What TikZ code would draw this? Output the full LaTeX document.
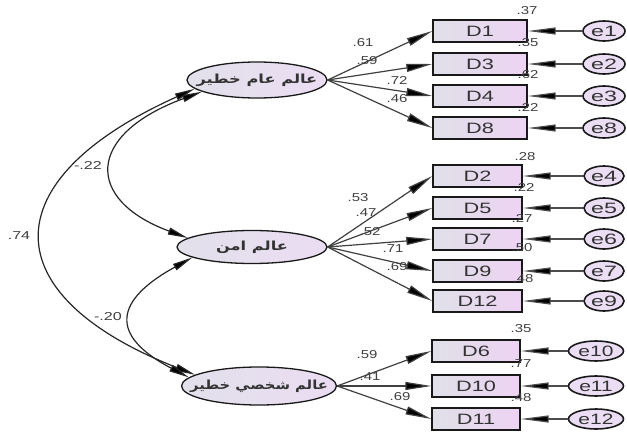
\documentclass[tikz,border=0pt]{standalone}
\usepackage{fontspec}
\usepackage{graphicx}
\setmainfont{Liberation Sans}
\newfontfamily\arabicfont[Script=Arabic]{DejaVu Sans}
\TeXXeTstate=1
\usetikzlibrary{arrows.meta,shapes.geometric}
\definecolor{boxl}{HTML}{E0E0E8}
\definecolor{boxr}{HTML}{EDD3F3}
\definecolor{ellf}{HTML}{EBDDF3}
\definecolor{elll}{HTML}{E2E0EA}
\definecolor{ink}{HTML}{333333}
\newcommand{\wtext}[2][1.45]{\scalebox{#1}[1]{#2}}
\newcommand{\artext}[2][1.3]{\makebox[0pt]{\scalebox{#1}[1]{\beginR #2\endR}}}
\begin{document}
\begin{tikzpicture}[x=1pt,y=-1pt,
 obs/.style={draw=black!90, line width=1.4pt, rectangle, minimum height=22pt, left color=boxl, right color=boxr, text=ink, font=\fontsize{15}{15}\selectfont, inner sep=0pt},
 lat/.style={draw=black!90, line width=1.3pt, ellipse, inner sep=0pt, left color=elll, right color=ellf, text=ink, font=\arabicfont\bfseries\fontsize{12.5}{12.5}\selectfont},
 err/.style={draw=black!90, line width=1.6pt, ellipse, minimum height=20pt, inner sep=0pt, fill=ellf, text=ink, font=\fontsize{15}{15}\selectfont},
 load/.style={draw=black!75, line width=1.2pt, -{Triangle[length=26pt,width=8pt,fill=black]}},
 resid/.style={draw=black!70, line width=1.2pt, -{Triangle[length=28pt,width=7pt,fill=black]}},
 cov/.style={draw=black!85, line width=1.2pt, {Triangle[length=20pt,width=7pt,fill=black]}-{Triangle[length=20pt,width=7pt,fill=black]}},
 num/.style={font=\fontsize{11.5}{11.5}\selectfont, inner sep=0pt, text=black!75}]
\useasboundingbox[fill=white] (0,0) rectangle (627,434);

% latent variables
\node[lat, minimum width=140pt, minimum height=36pt] (L1) at (257,80) {\artext{عالم عام خطير}};
\node[lat, minimum width=150pt, minimum height=33pt] (L2) at (252,247) {\artext{عالم امن}};
\node[lat, minimum width=155pt, minimum height=38pt] (L3) at (259,386) {\artext[1.18]{عالم شخصي خطير}};

% observed variables
\node[obs, minimum width=94pt] (D1) at (480,31) {\wtext{D1}};
\node[obs, minimum width=94pt] (D3) at (480,64) {\wtext{D3}};
\node[obs, minimum width=94pt] (D4) at (480,96) {\wtext{D4}};
\node[obs, minimum width=94pt] (D8) at (480,128) {\wtext{D8}};
\node[obs, minimum width=89pt] (D2) at (477.5,176) {\wtext{D2}};
\node[obs, minimum width=89pt] (D5) at (477.5,208) {\wtext{D5}};
\node[obs, minimum width=89pt] (D7) at (477.5,239) {\wtext{D7}};
\node[obs, minimum width=89pt] (D9) at (477.5,271) {\wtext{D9}};
\node[obs, minimum width=89pt] (D12) at (477.5,301) {\wtext{D12}};
\node[obs, minimum width=88pt] (D6) at (476,351) {\wtext{D6}};
\node[obs, minimum width=88pt] (D10) at (476,386) {\wtext{D10}};
\node[obs, minimum width=88pt] (D11) at (476,419) {\wtext{D11}};

% errors
\node[err, minimum width=42pt] (e1) at (604,31) {\wtext[1.55]{e1}};
\node[err, minimum width=42pt] (e2) at (604,64) {\wtext[1.55]{e2}};
\node[err, minimum width=42pt] (e3) at (604,96) {\wtext[1.55]{e3}};
\node[err, minimum width=42pt] (e8) at (604,128) {\wtext[1.55]{e8}};
\node[err, minimum width=40pt] (e4) at (604,176) {\wtext[1.55]{e4}};
\node[err, minimum width=40pt] (e5) at (604,208) {\wtext[1.55]{e5}};
\node[err, minimum width=40pt] (e6) at (604,239) {\wtext[1.55]{e6}};
\node[err, minimum width=40pt] (e7) at (604,271) {\wtext[1.55]{e7}};
\node[err, minimum width=40pt] (e9) at (604,301) {\wtext[1.55]{e9}};
\node[err, minimum width=55pt] (e10) at (596,351) {\wtext[1.4]{e10}};
\node[err, minimum width=55pt] (e11) at (596,386) {\wtext[1.4]{e11}};
\node[err, minimum width=55pt] (e12) at (596,419) {\wtext[1.4]{e12}};

% loadings
\foreach \d in {D1,D3,D4,D8} \draw[load] (L1.east) -- (\d.west);
\foreach \d in {D2,D5,D7,D9,D12} \draw[load] (L2.east) -- (\d.west);
\foreach \d in {D6,D10,D11} \draw[load] (L3.east) -- (\d.west);

% residuals
\foreach \e/\d in {e1/D1,e2/D3,e3/D4,e8/D8,e4/D2,e5/D5,e6/D7,e7/D9,e9/D12,e10/D6,e11/D10,e12/D11}
  \draw[resid] (\e.west) -- (\d.east);

% covariances
\draw[cov] (L1.192) .. controls (85,135) and (85,200) .. (L2.172);
\draw[cov] (L1.188) .. controls (-8,180) and (-8,295) .. (L3.170);
\draw[cov] (L2.190) .. controls (115,300) and (108,335) .. (L3.173);

\node[num] (c1) at (88,165) {\wtext[1.4]{-.22}};
\node[num] (c2) at (19,236) {\wtext[1.4]{.74}};
\node[num] (c3) at (108,317) {\wtext[1.4]{-.20}};

% loading labels
\node[num] (l1) at (363,43) {\wtext[1.3]{.61}};
\node[num] (l3) at (367,61) {\wtext[1.3]{.59}};
\node[num] (l4) at (397,80) {\wtext[1.3]{.72}};
\node[num] (l8) at (397,99) {\wtext[1.3]{.46}};
\node[num] (l2) at (358,198) {\wtext[1.3]{.53}};
\node[num] (l5) at (366,213) {\wtext[1.3]{.47}};
\node[num] (l7) at (370,232) {\wtext[1.3]{.52}};
\node[num] (l9) at (393,249) {\wtext[1.3]{.71}};
\node[num] (l12) at (397,267) {\wtext[1.3]{.69}};
\node[num] (l6) at (367,355) {\wtext[1.3]{.59}};
\node[num] (l10) at (370,377) {\wtext[1.3]{.41}};
\node[num] (l11) at (400,397) {\wtext[1.3]{.69}};

% squared multiple correlations
\node[num] (r1) at (527,11) {\wtext[1.3]{.37}};
\node[num] (r3) at (528,43) {\wtext[1.3]{.35}};
\node[num] (r4) at (528,75) {\wtext[1.3]{.62}};
\node[num] (r8) at (528,107) {\wtext[1.3]{.22}};
\node[num] (r2) at (525,157) {\wtext[1.3]{.28}};
\node[num] (r5) at (524,187) {\wtext[1.3]{.22}};
\node[num] (r7) at (522,218) {\wtext[1.3]{.27}};
\node[num] (r9) at (522,248) {\wtext[1.3]{.50}};
\node[num] (r12) at (523,279) {\wtext[1.3]{.48}};
\node[num] (r6) at (521,329) {\wtext[1.3]{.35}};
\node[num] (r10) at (521,364) {\wtext[1.3]{.77}};
\node[num] (r11) at (521,398) {\wtext[1.3]{.48}};
\end{tikzpicture}
\end{document}
